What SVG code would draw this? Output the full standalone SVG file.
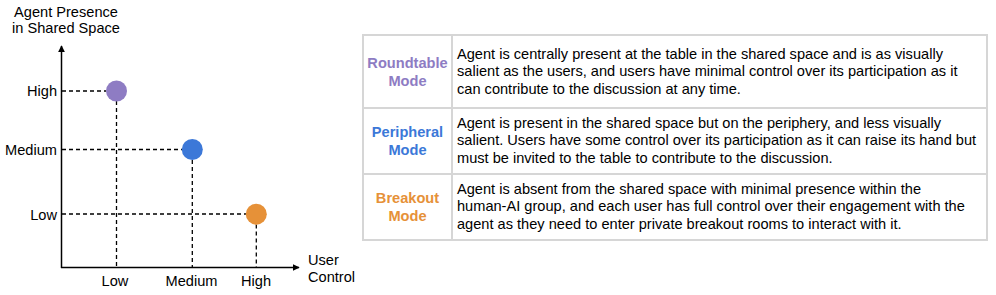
<svg xmlns="http://www.w3.org/2000/svg" width="996" height="295" viewBox="0 0 996 295">
<style>
text{font-family:"Liberation Sans",Arial,sans-serif;font-size:14.6px;fill:#000}
.mid{text-anchor:middle}
.end{text-anchor:end}
.dash{stroke:#000;stroke-width:1.3;stroke-dasharray:4,3;fill:none}
.axis{stroke:#000;stroke-width:1.5;fill:none}
.cell{fill:#fff;stroke:#d6d6d6;stroke-width:2}
.lbl{font-weight:bold;text-anchor:middle}
.p{fill:#8e7cc3}
.b{fill:#3c78d8}
.o{fill:#e69138}
</style>
<defs>
<marker id="arr" viewBox="0 0 10 10" refX="9" refY="5" markerWidth="7" markerHeight="7" markerUnits="userSpaceOnUse" orient="auto"><path d="M0,0 L10,5 L0,10 Z" fill="#000"/></marker>
</defs>
<g id="axes">
<text class="mid" x="66" y="17">Agent Presence</text>
<text class="mid" x="66" y="33">in Shared Space</text>
<line class="axis" x1="61.5" y1="268" x2="61.5" y2="46" marker-end="url(#arr)"/>
<line class="axis" x1="61" y1="267.5" x2="299" y2="267.5" marker-end="url(#arr)"/>
<text class="end" x="57" y="96">High</text>
<text class="end" x="57" y="155">Medium</text>
<text class="end" x="57" y="219.5">Low</text>
<text class="mid" x="115" y="286">Low</text>
<text class="mid" x="191.5" y="286">Medium</text>
<text class="mid" x="256" y="286">High</text>
<text x="308" y="264.5">User</text>
<text x="308" y="282">Control</text>
</g>
<g id="connectors">
<path class="dash" d="M62,91 H106 M116.5,101 V267"/>
<path class="dash" d="M62,149.5 H182 M192.3,160 V267"/>
<path class="dash" d="M62,214 H246 M256.3,224.5 V267"/>
</g>
<g id="roundtable-dot"><circle class="p" cx="116.5" cy="91" r="10.5"/></g>
<g id="peripheral-dot"><circle class="b" cx="192.3" cy="149.5" r="10.5"/></g>
<g id="breakout-dot"><circle class="o" cx="256.3" cy="214.2" r="10.5"/></g>
<g id="row-roundtable">
<rect class="cell" x="363" y="35" width="89" height="73"/>
<rect class="cell" x="452" y="35" width="535" height="73"/>
<text class="lbl p" x="407.5" y="67.5">Roundtable</text>
<text class="lbl p" x="407.5" y="85.5">Mode</text>
<text x="457" y="58.5">Agent is centrally present at the table in the shared space and is as visually</text>
<text x="457" y="76">salient as the users, and users have minimal control over its participation as it</text>
<text x="457" y="93.5">can contribute to the discussion at any time.</text>
</g>
<g id="row-peripheral">
<rect class="cell" x="363" y="108" width="89" height="66"/>
<rect class="cell" x="452" y="108" width="535" height="66"/>
<text class="lbl b" x="407.5" y="137">Peripheral</text>
<text class="lbl b" x="407.5" y="154.5">Mode</text>
<text x="457" y="127.5">Agent is present in the shared space but on the periphery, and less visually</text>
<text x="457" y="145">salient. Users have some control over its participation as it can raise its hand but</text>
<text x="457" y="162.5">must be invited to the table to contribute to the discussion.</text>
</g>
<g id="row-breakout">
<rect class="cell" x="363" y="174" width="89" height="66"/>
<rect class="cell" x="452" y="174" width="535" height="66"/>
<text class="lbl o" x="407.5" y="203">Breakout</text>
<text class="lbl o" x="407.5" y="220.5">Mode</text>
<text x="457" y="193.5">Agent is absent from the shared space with minimal presence within the</text>
<text x="457" y="211">human-AI group, and each user has full control over their engagement with the</text>
<text x="457" y="228.5">agent as they need to enter private breakout rooms to interact with it.</text>
</g>
</svg>
